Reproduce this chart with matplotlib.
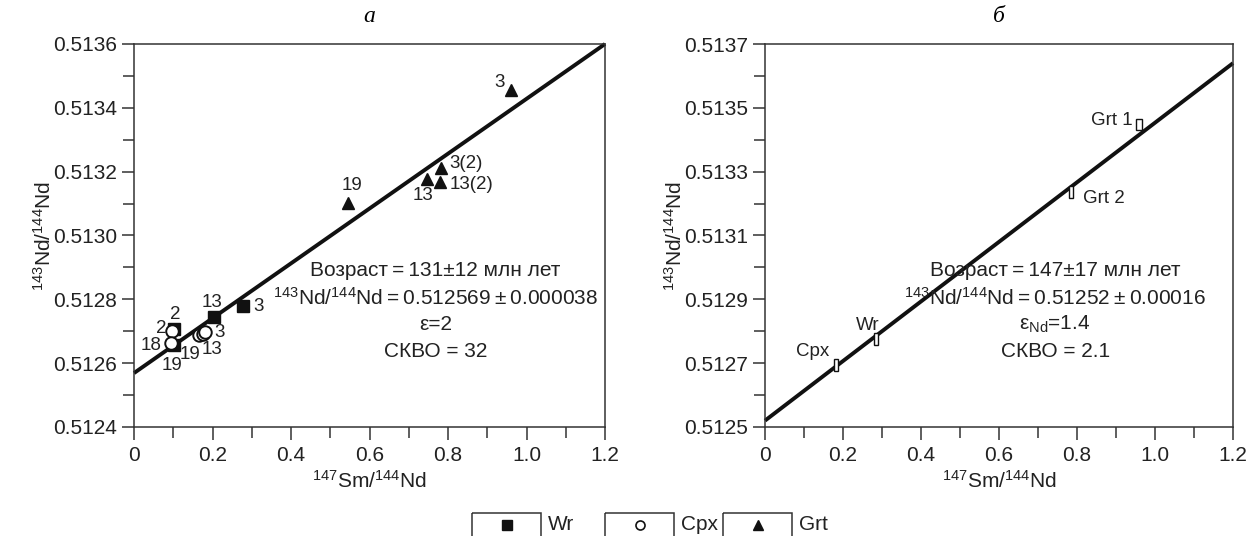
import matplotlib
matplotlib.use("Agg")
import matplotlib.pyplot as plt
from matplotlib.patches import Rectangle
from matplotlib.ticker import MultipleLocator

plt.rcParams['font.family'] = ['Liberation Sans', 'DejaVu Sans']
plt.rcParams['mathtext.fontset'] = 'custom'
plt.rcParams['mathtext.rm'] = 'Liberation Sans'
plt.rcParams['mathtext.it'] = 'Liberation Sans:italic'

# --- panel a: isochron points ---
wr_x = [0.102, 0.102, 0.204, 0.277]
wr_y = [0.512707, 0.512657, 0.512745, 0.512779]
wr_lab = ['2', '19', '13', '3']

cpx_x = [0.097, 0.094, 0.166, 0.175, 0.181]
cpx_y = [0.512701, 0.512663, 0.512688, 0.512690, 0.512698]
cpx_lab = ['2', '18', '19', '13', '3']

grt_x = [0.960, 0.782, 0.746, 0.780, 0.546]
grt_y = [0.513456, 0.513212, 0.513177, 0.513168, 0.513102]
grt_lab = ['3', '3(2)', '13', '13(2)', '19']

iso_a_x = [0.0, 1.2]
iso_a_y = [0.512569, 0.5136]

# --- panel b: points with error boxes ---
b_x = [0.182, 0.285, 0.785, 0.959]
b_y = [0.512694, 0.512776, 0.513237, 0.513447]
b_dx = [0.0055, 0.0055, 0.0055, 0.0065]
b_dy = [0.000018, 0.000018, 0.000018, 0.000018]
b_lab = ['Cpx', 'Wr', 'Grt 2', 'Grt 1']

iso_b_x = [0.0, 1.2]
iso_b_y = [0.51252, 0.51364]

# label offsets in points (dx, dy, ha)
wr_off = [(0.7, 10.5, 'center'), (-1.5, -14.5, 'center'), (-1.5, 10.5, 'center'), (11.5, 0, 'center')]
cpx_off = [(-7.5, 2, 'center'), (-14, -1.5, 'center'), (-6.5, -14, 'center'), (6.5, -10.5, 'center'), (10.5, -0.7, 'center')]
grt_off = [(-8, 5.5, 'center'), (6, 3, 'left'), (-3, -12, 'center'), (7, -2, 'left'), (3, 12.5, 'center')]
b_off = [(-5, 9.8, 'right'), (-6, 9.5, 'center'), (8.6, -5, 'left'), (-4.3, 3, 'right')]

ylab = r'$^{143}$Nd/$^{144}$Nd'
xlab = r'$^{147}$Sm/$^{144}$Nd'
tfs = 15
lfs = 13.5
ts = '\u2009'

fig = plt.figure(figsize=(12.52, 5.36), dpi=100)
axA = fig.add_axes([134 / 1252, 109 / 536, 471 / 1252, 383 / 536])
axB = fig.add_axes([765 / 1252, 109 / 536, 468 / 1252, 383 / 536])


def style(ax, ylo, yhi, yoff):
    ax.set_xlim(0, 1.2)
    ax.set_ylim(ylo, yhi)
    ax.xaxis.set_major_locator(MultipleLocator(0.2))
    ax.xaxis.set_minor_locator(MultipleLocator(0.1))
    ax.yaxis.set_major_locator(MultipleLocator(0.0002, offset=yoff))
    ax.yaxis.set_minor_locator(MultipleLocator(0.0001))
    ax.xaxis.set_major_formatter(plt.FuncFormatter(lambda v, p: '0' if abs(v) < 1e-9 else '%.1f' % v))
    ax.yaxis.set_major_formatter(plt.FuncFormatter(lambda v, p: '%.4f' % v))
    ax.tick_params(which='both', direction='out', width=1.1, color='#333333', labelsize=tfs, labelcolor='#222222')
    ax.tick_params(which='major', length=9, pad=3)
    ax.tick_params(which='minor', length=8)
    ax.tick_params(axis='x', which='major', pad=5)
    for s in ax.spines.values():
        s.set_linewidth(1.1)
        s.set_color('#333333')
    ax.set_xlabel(xlab, fontsize=tfs, labelpad=3, color='#222222')
    ax.set_ylabel(ylab, fontsize=tfs, labelpad=-1, color='#222222')


style(axA, 0.5124, 0.5136, 0.0)
style(axB, 0.5125, 0.5137, 0.0001)

# panel a
axA.plot(iso_a_x, iso_a_y, color='#111111', lw=2.8, solid_capstyle='butt', clip_on=False, zorder=2)
axA.plot(wr_x, wr_y, 's', color='#111111', ms=9, zorder=3)
axA.plot(cpx_x, cpx_y, 'o', mfc='white', mec='#111111', mew=1.4, ms=9, zorder=4)
axA.plot(grt_x, grt_y, '^', color='#111111', ms=8, zorder=3)
for xs, ys, labs, offs in [(wr_x, wr_y, wr_lab, wr_off), (cpx_x, cpx_y, cpx_lab, cpx_off), (grt_x, grt_y, grt_lab, grt_off)]:
    for x, y, t, (dx, dy, ha) in zip(xs, ys, labs, offs):
        axA.annotate(t, (x, y), xytext=(dx, dy), textcoords='offset points', ha=ha, va='center',
                     fontsize=lfs, color='#222222', zorder=5)

txtA = ['Возраст' + ts + '=' + ts + '131±12 млн лет',
        r'$^{143}$Nd/$^{144}$Nd' + ts + '=' + ts + '0.512569' + ts + '±' + ts + '0.000038',
        'ε=2',
        'СКВО = 32']
for i, t in enumerate(txtA):
    axA.text(0.64, 0.408 - i * 0.07, t, transform=axA.transAxes, ha='center', va='center',
             fontsize=tfs, color='#222222')
axA.set_title('а', fontsize=17, style='italic', family='Liberation Serif', pad=16)

# panel b
axB.plot(iso_b_x, iso_b_y, color='#111111', lw=2.8, solid_capstyle='butt', clip_on=False, zorder=2)
for x, y, dx, dy, t, (ox, oy, ha) in zip(b_x, b_y, b_dx, b_dy, b_lab, b_off):
    axB.add_patch(Rectangle((x - dx, y - dy), 2 * dx, 2 * dy, facecolor='white', edgecolor='#111111',
                            lw=1.0, zorder=3))
    axB.annotate(t, (x, y), xytext=(ox, oy), textcoords='offset points', ha=ha, va='center',
                 fontsize=lfs, color='#222222', zorder=5)

txtB = ['Возраст' + ts + '=' + ts + '147±17 млн лет',
        r'$^{143}$Nd/$^{144}$Nd' + ts + '=' + ts + '0.51252' + ts + '±' + ts + '0.00016',
        r'ε$_{\rm Nd}$=1.4',
        'СКВО = 2.1']
for i, t in enumerate(txtB):
    axB.text(0.62, 0.408 - i * 0.07, t, transform=axB.transAxes, ha='center', va='center',
             fontsize=tfs, color='#222222')
axB.set_title('б', fontsize=17, style='italic', family='Liberation Serif', pad=16)

# legend row at the bottom
leg = fig.add_axes([0, 0, 1, 1], facecolor='none')
leg.set_xlim(0, 1252)
leg.set_ylim(536, 0)
leg.axis('off')
leg_names = ['Wr', 'Cpx', 'Grt']
leg_marks = [dict(marker='s', color='#111111', ms=7),
             dict(marker='o', mfc='white', mec='#111111', mew=1.2, ms=6.5),
             dict(marker='^', color='#111111', ms=6.5)]
leg_x0 = [472, 605, 723]
for x0, name, mk in zip(leg_x0, leg_names, leg_marks):
    leg.add_patch(Rectangle((x0, 513), 69, 30, facecolor='none', edgecolor='#333333', lw=1.1, clip_on=False))
    leg.plot([x0 + 34.5], [525], linestyle='none', **mk)
    leg.text(x0 + 76, 524, name, ha='left', va='center', fontsize=tfs, color='#222222')

fig.savefig('out.png', dpi=100)
